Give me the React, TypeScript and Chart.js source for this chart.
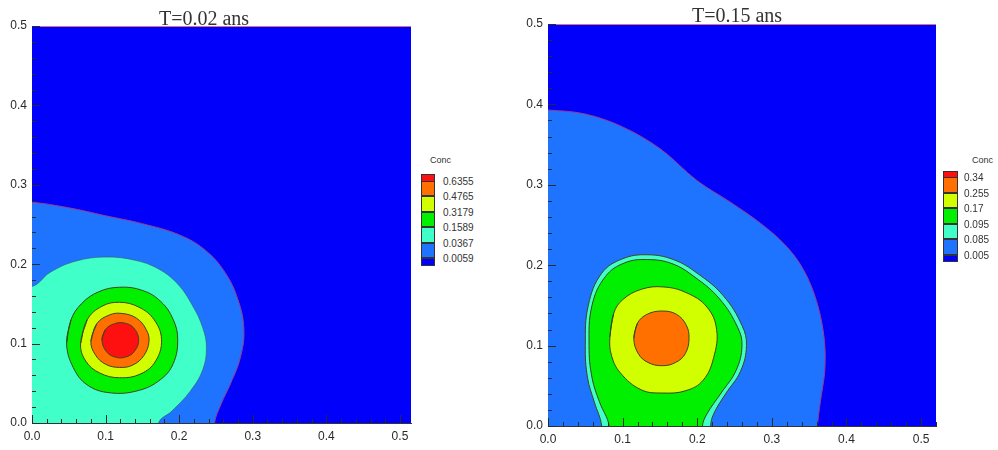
import React, { useEffect, useRef } from 'react';
import { Chart, registerables } from 'chart.js';
Chart.register(...registerables);

// ---------- colours of the contour levels (top -> bottom of colour bar) ----------
const RED = '#ff1010';
const ORANGE = '#ff7000';
const YELLOW = '#d2ff00';
const GREEN = '#00f000';
const CYAN = '#40ffc8';
const MID_BLUE = '#1f74ff';
const DARK_BLUE = '#0000fb';
const bandColors = [RED, ORANGE, YELLOW, GREEN, CYAN, MID_BLUE, DARK_BLUE];

// ---------- titles, legend labels, tick labels ----------
const titleLeft = 'T=0.02 ans';
const titleRight = 'T=0.15 ans';
const legendTitle = 'Conc';
const legendLevelsLeft = ['0.6355', '0.4765', '0.3179', '0.1589', '0.0367', '0.0059'];
const legendLevelsRight = ['0.34', '0.255', '0.17', '0.095', '0.085', '0.005'];
const xTickLabels = ['0.0', '0.1', '0.2', '0.3', '0.4', '0.5'];
const yTickLabels = ['0.0', '0.1', '0.2', '0.3', '0.4', '0.5'];

// ---------- contour boundaries, left panel (T = 0.02), [x, y] ----------
const domain = [[-0.05, -0.05], [0.6, -0.05], [0.6, 0.6], [-0.05, 0.6]];
const leftMidBlue = [[-0.05, 0.28], [0, 0.278], [0.05, 0.271], [0.1, 0.261], [0.15, 0.251], [0.2, 0.237], [0.235, 0.218], [0.262, 0.19], [0.28, 0.155], [0.288, 0.117], [0.283, 0.082], [0.27, 0.05], [0.257, 0.024], [0.248, 0], [0.244, -0.05], [-0.05, -0.05]];
const leftCyan = [[-0.05, 0.17], [0, 0.172], [0.025, 0.19], [0.06, 0.204], [0.1, 0.209], [0.14, 0.205], [0.172, 0.194], [0.198, 0.175], [0.218, 0.148], [0.232, 0.12], [0.237, 0.095], [0.232, 0.067], [0.215, 0.04], [0.19, 0.015], [0.172, 0], [0.166, -0.05], [-0.05, -0.05]];
const leftGreen = [[0.047, 0.1], [0.053, 0.13], [0.067, 0.15], [0.09, 0.165], [0.119, 0.171], [0.15, 0.167], [0.175, 0.153], [0.192, 0.13], [0.198, 0.105], [0.192, 0.075], [0.175, 0.055], [0.145, 0.041], [0.106, 0.038], [0.075, 0.048], [0.056, 0.07]];
const leftYellow = [[0.066, 0.1], [0.075, 0.13], [0.095, 0.147], [0.119, 0.152], [0.145, 0.146], [0.166, 0.13], [0.176, 0.105], [0.168, 0.078], [0.148, 0.062], [0.119, 0.057], [0.092, 0.063], [0.073, 0.078]];
const leftOrange = [[0.08, 0.103], [0.088, 0.125], [0.105, 0.136], [0.122, 0.138], [0.142, 0.132], [0.155, 0.118], [0.159, 0.103], [0.152, 0.085], [0.137, 0.073], [0.119, 0.07], [0.1, 0.074], [0.086, 0.086]];
const leftRed = [[0.095, 0.105], [0.1, 0.118], [0.112, 0.125], [0.125, 0.126], [0.138, 0.12], [0.145, 0.105], [0.139, 0.09], [0.127, 0.083], [0.113, 0.083], [0.101, 0.09]];

// ---------- contour boundaries, right panel (T = 0.15), [x, y] ----------
const rightMidBlue = [[-0.05, 0.395], [0, 0.393], [0.05, 0.388], [0.1, 0.372], [0.15, 0.345], [0.2, 0.305], [0.245, 0.278], [0.285, 0.252], [0.318, 0.225], [0.342, 0.195], [0.36, 0.155], [0.37, 0.11], [0.371, 0.07], [0.365, 0.03], [0.361, 0], [0.358, -0.05], [-0.05, -0.05]];
const rightCyan = [[0.073, -0.05], [0.072, 0], [0.062, 0.03], [0.053, 0.06], [0.05, 0.1], [0.054, 0.15], [0.072, 0.19], [0.1, 0.208], [0.133, 0.213], [0.168, 0.207], [0.2, 0.19], [0.235, 0.162], [0.26, 0.125], [0.266, 0.1], [0.258, 0.068], [0.238, 0.04], [0.222, 0.015], [0.218, 0], [0.218, -0.05]];
const rightGreen = [[0.084, -0.05], [0.082, 0], [0.069, 0.03], [0.059, 0.06], [0.055, 0.1], [0.059, 0.15], [0.077, 0.186], [0.103, 0.203], [0.133, 0.207], [0.166, 0.202], [0.197, 0.185], [0.23, 0.158], [0.254, 0.123], [0.26, 0.1], [0.252, 0.069], [0.232, 0.041], [0.213, 0.015], [0.207, 0], [0.206, -0.05]];
const rightYellow = [[0.083, 0.111], [0.088, 0.14], [0.1, 0.157], [0.125, 0.17], [0.154, 0.173], [0.185, 0.166], [0.213, 0.148], [0.226, 0.12], [0.222, 0.085], [0.208, 0.057], [0.185, 0.044], [0.154, 0.041], [0.125, 0.045], [0.097, 0.066], [0.085, 0.088]];
const rightOrange = [[0.115, 0.109], [0.12, 0.128], [0.133, 0.139], [0.153, 0.143], [0.172, 0.139], [0.185, 0.126], [0.189, 0.109], [0.184, 0.09], [0.171, 0.079], [0.153, 0.075], [0.134, 0.079], [0.121, 0.09]];

const toPts = (a: number[][]) => a.map(([x, y]) => ({ x, y }));
const ring = (a: number[][]) => toPts([...a, a[0], a[1]]);

const isStep = (v: number) => Math.abs(v * 50 - Math.round(v * 50)) < 1e-6;
const isMajor = (v: number) => Math.abs(v * 10 - Math.round(v * 10)) < 1e-6;

const LINE_DARK = '#3f4420';

function layer(data: any[], color: string, border: string, order: number, tension = 0.4, bw = 1) {
  return {
    data,
    showLine: true,
    fill: 'shape',
    backgroundColor: color,
    borderColor: border,
    borderWidth: bw,
    pointRadius: 0,
    pointHoverRadius: 0,
    tension,
    capBezierPoints: false,
    order,
  };
}

const inwardTicks = {
  id: 'inwardTicks',
  afterDraw(chart: any) {
    const { ctx, chartArea: a, scales } = chart;
    const x = scales.x;
    const y = scales.y;
    ctx.save();
    ctx.strokeStyle = '#d87090';
    ctx.lineWidth = 1;
    ctx.beginPath();
    ctx.moveTo(a.left, a.top + 0.5);
    ctx.lineTo(a.right, a.top + 0.5);
    ctx.stroke();
    ctx.strokeStyle = '#2a2a2a';
    ctx.beginPath();
    for (const t of x.ticks) {
      const v = t.value;
      if (!isStep(v)) continue;
      const px = Math.round(x.getPixelForValue(v)) + 0.5;
      const len = isMajor(v) ? 8 : 4;
      ctx.moveTo(px, a.bottom);
      ctx.lineTo(px, a.bottom - len);
    }
    for (const t of y.ticks) {
      const v = t.value;
      if (!isStep(v)) continue;
      const py = Math.round(y.getPixelForValue(v)) + 0.5;
      const len = isMajor(v) ? 8 : 4;
      ctx.moveTo(a.left, py);
      ctx.lineTo(a.left + len, py);
    }
    ctx.stroke();
    ctx.restore();
  },
};

function makeConfig(datasets: any[], xMax: number, yAxisW: number, xAxisH: number, padTop: number, padRight: number) {
  const tickFont = { family: 'Liberation Sans, Arial, sans-serif', size: 12 };
  return {
    type: 'scatter',
    data: { datasets },
    plugins: [inwardTicks],
    options: {
      responsive: false,
      animation: false,
      events: [],
      layout: { padding: { top: padTop, right: padRight, left: 0, bottom: 0 } },
      plugins: { legend: { display: false }, tooltip: { enabled: false }, title: { display: false } },
      scales: {
        x: {
          type: 'linear',
          min: 0,
          max: xMax,
          z: 1,
          grid: { display: false, drawTicks: false },
          border: { display: true, color: '#333', width: 1 },
          ticks: {
            stepSize: 0.02,
            includeBounds: false,
            autoSkip: false,
            maxRotation: 0,
            padding: 6,
            color: '#2a2a2a',
            font: tickFont,
            callback: (v: number) => (isMajor(v) ? xTickLabels[Math.round(v * 10)] : ''),
          },
          afterFit: (s: any) => { s.height = xAxisH; },
        },
        y: {
          type: 'linear',
          min: 0,
          max: 0.5,
          z: 1,
          grid: { display: false, drawTicks: false },
          border: { display: true, color: '#333', width: 1 },
          ticks: {
            stepSize: 0.02,
            includeBounds: false,
            autoSkip: false,
            padding: 5,
            color: '#2a2a2a',
            font: tickFont,
            callback: (v: number) => (isMajor(v) ? yTickLabels[Math.round(v * 10)] : ''),
          },
          afterFit: (s: any) => { s.width = yAxisW; },
        },
      },
    },
  };
}

function ContourChart(props: { left: number; width: number; config: any }) {
  const ref = useRef<HTMLCanvasElement>(null);
  useEffect(() => {
    const chart = new Chart(ref.current as HTMLCanvasElement, props.config);
    return () => chart.destroy();
  }, []);
  return (
    <canvas
      ref={ref}
      width={props.width}
      height={450}
      style={{ position: 'absolute', left: props.left, top: 0, width: props.width, height: 450, display: 'block' }}
    />
  );
}

function ColorBar(props: { left: number; top: number; width: number; endH: number; bandH: number; labels: string[]; labelX: number; titleX: number; titleY: number }) {
  const { left, top, width, endH, bandH, labels, labelX, titleX, titleY } = props;
  const els: any[] = [];
  let y = top;
  bandColors.forEach((c, i) => {
    const h = i === 0 || i === bandColors.length - 1 ? endH : bandH;
    els.push(
      <div key={'b' + i} style={{ position: 'absolute', left, top: y, width, height: h, background: c, boxSizing: 'border-box', border: '1px solid #333', marginTop: i === 0 ? 0 : -1 }} />
    );
    if (i < labels.length) {
      els.push(
        <div key={'l' + i} style={{ position: 'absolute', left: labelX, top: y + h - 7, height: 14, lineHeight: '14px', fontSize: 10, fontFamily: 'Liberation Sans, Arial, sans-serif', color: '#333', whiteSpace: 'nowrap' }}>
          {labels[i]}
        </div>
      );
    }
    y += h;
  });
  return (
    <>
      <div style={{ position: 'absolute', left: titleX, top: titleY - 6, lineHeight: '12px', fontSize: 9, fontFamily: 'Liberation Sans, Arial, sans-serif', color: '#333' }}>{legendTitle}</div>
      {els}
    </>
  );
}

const leftDatasets = [
  layer(toPts(domain), DARK_BLUE, DARK_BLUE, 10, 0, 0),
  layer(toPts(leftMidBlue), MID_BLUE, '#9a3a8a', 9),
  layer(toPts(leftCyan), CYAN, 'rgba(50,90,110,0.6)', 8),
  layer(ring(leftGreen), GREEN, LINE_DARK, 7),
  layer(ring(leftYellow), YELLOW, LINE_DARK, 6),
  layer(ring(leftOrange), ORANGE, LINE_DARK, 5),
  layer(ring(leftRed), RED, LINE_DARK, 4),
];

const rightDatasets = [
  layer(toPts(domain), DARK_BLUE, DARK_BLUE, 10, 0, 0),
  layer(toPts(rightMidBlue), MID_BLUE, '#9a3a8a', 9, 0.35),
  layer(toPts(rightCyan), CYAN, LINE_DARK, 8),
  layer(toPts(rightGreen), GREEN, LINE_DARK, 7),
  layer(ring(rightYellow), YELLOW, LINE_DARK, 6),
  layer(ring(rightOrange), ORANGE, LINE_DARK, 5),
];

export default function App() {
  const leftCfg = makeConfig(leftDatasets, 0.515, 32, 27, 26, 9);
  const rightCfg = makeConfig(rightDatasets, 0.52, 33, 24, 24, 9);
  const titleStyle: any = { position: 'absolute', width: 200, textAlign: 'center', fontFamily: 'Liberation Serif, Times New Roman, serif', fontSize: 20, lineHeight: '20px', color: '#333' };
  return (
    <div style={{ position: 'absolute', left: 0, top: 0, width: 998, height: 450, background: '#fff', overflow: 'hidden' }}>
      <ContourChart left={0} width={420} config={leftCfg} />
      <ContourChart left={515} width={430} config={rightCfg} />
      <div style={{ ...titleStyle, left: 204 - 100, top: 8 }}>{titleLeft}</div>
      <div style={{ ...titleStyle, left: 737 - 100, top: 5 }}>{titleRight}</div>
      <ColorBar left={421} top={174} width={14} endH={8} bandH={15.4} labels={legendLevelsLeft} labelX={443} titleX={430} titleY={160} />
      <ColorBar left={943} top={171} width={15} endH={7} bandH={15.6} labels={legendLevelsRight} labelX={964} titleX={972} titleY={160} />
    </div>
  );
}
